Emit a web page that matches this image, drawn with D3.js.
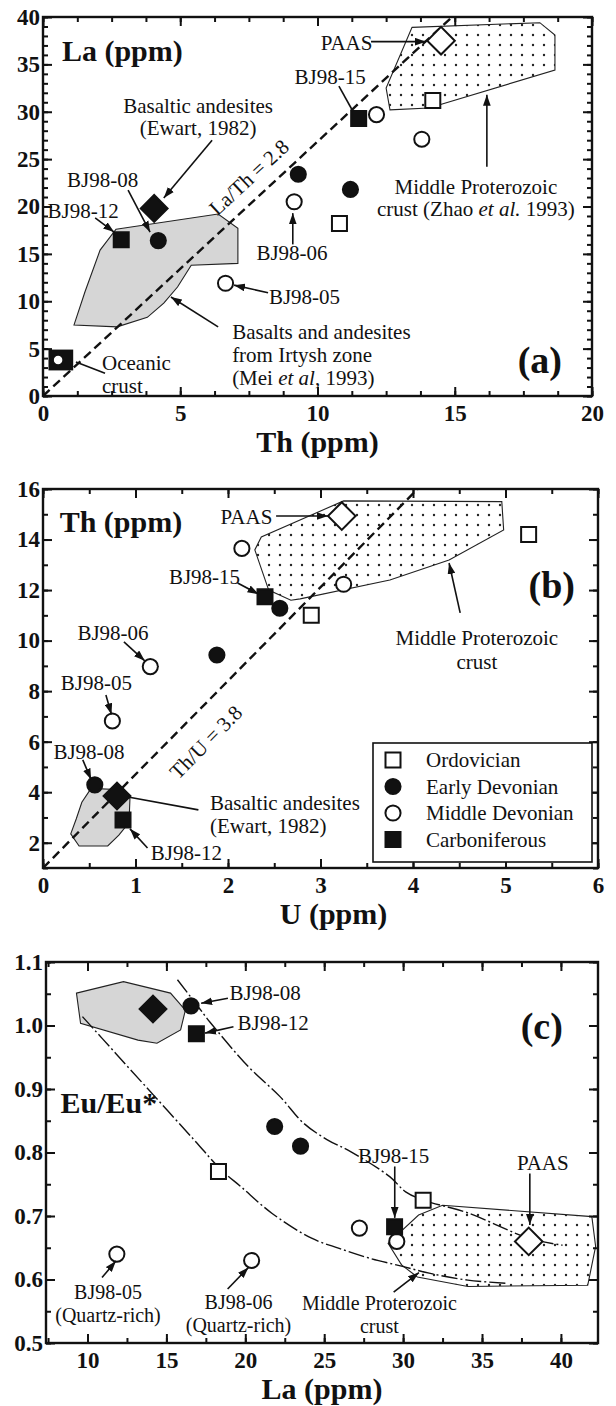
<!DOCTYPE html>
<html>
<head>
<meta charset="utf-8">
<script src="https://cdn.jsdelivr.net/npm/d3@7"></script>
<style>
  body { margin: 0; background: #fff; }
  svg text { font-family: "Liberation Serif", "Times New Roman", serif; fill: #111; }
</style>
</head>
<body>
<svg id="chart" width="616" height="1406"></svg>
<script>
// ---------- data ----------
const seriesNames = ["Ordovician", "Early Devonian", "Middle Devonian", "Carboniferous"];

// panel (a): Th (x) vs La (y)
const aOrdovician = [[14.2, 31.2], [10.8, 18.2]];
const aEarlyDevonian = [[9.3, 23.4], [11.2, 21.8], [4.2, 16.4]];
const aMiddleDevonian = [[12.15, 29.7], [13.8, 27.1], [9.15, 20.5], [6.65, 11.9]];
const aCarboniferous = [[11.5, 29.3], [2.85, 16.5]];
const aPAAS = [[14.5, 37.5]];
const aBasalticAndesite = [[4.05, 19.8]];
const aOceanicBox = [[0.2, 2.7], [1.1, 4.9]];
const aOceanicPoint = [[0.55, 3.8]];
const aRatioLine = [[0, 0], [14.9, 40]];
const aIrtyshField = [[2.66, 17.6], [6.38, 19.2], [7.1, 17.7], [7.1, 14.0], [5.4, 13.8], [4.9, 11.5],
  [4.4, 9.8], [3.8, 8.3], [2.7, 7.3], [1.13, 7.5], [1.53, 11.0], [2.08, 15.4]];
const aProterozoicField = [[13.44, 38.9], [18.1, 39.4], [18.65, 38.1], [18.65, 34.4], [14.06, 30.4],
  [12.64, 30.2], [12.5, 32.5]];
const aXTicks = [0, 5, 10, 15, 20];
const aYTicks = [0, 5, 10, 15, 20, 25, 30, 35, 40];

// panel (b): U (x) vs Th (y)
const bOrdovician = [[5.25, 14.2], [2.9, 11.0]];
const bEarlyDevonian = [[2.56, 11.28], [1.88, 9.43], [0.56, 4.29]];
const bMiddleDevonian = [[2.15, 13.65], [3.25, 12.23], [1.16, 8.97], [0.75, 6.82]];
const bCarboniferous = [[2.4, 11.74], [0.865, 2.9]];
const bPAAS = [[3.23, 14.93]];
const bBasalticAndesite = [[0.8, 3.85]];
const bRatioLine = [[0, 1], [4.05, 16]];
const bBasaltField = [[0.3, 2.35], [0.39, 1.87], [0.7, 1.87], [0.82, 2.3], [0.93, 2.8], [0.94, 3.75],
  [0.85, 4.1], [0.52, 4.15], [0.42, 3.6], [0.36, 2.95]];
const bProterozoicField = [[3.25, 15.53], [4.96, 15.5], [4.98, 14.38], [4.39, 13.19], [3.75, 12.4],
  [2.78, 11.65], [2.68, 11.6], [2.44, 12.0], [2.29, 13.59], [2.36, 14.1]];
const bXTicks = [0, 1, 2, 3, 4, 5, 6];
const bYTicks = [2, 4, 6, 8, 10, 12, 14, 16];

// panel (c): La (x) vs Eu/Eu* (y)
const cOrdovician = [[18.3, 0.770], [31.27, 0.725]];
const cEarlyDevonian = [[16.56, 1.031], [21.86, 0.841], [23.5, 0.81]];
const cMiddleDevonian = [[27.23, 0.681], [29.6, 0.660], [11.86, 0.640], [20.4, 0.630]];
const cCarboniferous = [[16.9, 0.987], [29.46, 0.683]];
const cPAAS = [[37.96, 0.660]];
const cBasalticAndesite = [[14.15, 1.026]];
const cBasaltField = [[9.3, 1.051], [12.28, 1.069], [15.26, 1.051], [16.2, 1.024], [15.9, 0.993],
  [14.4, 0.972], [13.2, 0.977], [9.56, 1.0035]];
const cProterozoicField = [[30.98, 0.7016], [32.5, 0.717], [41.96, 0.699], [42.2, 0.652], [41.7, 0.591],
  [34.1, 0.589], [30.9, 0.604], [29.9, 0.623], [29.05, 0.657]];
const cUpperTrend = [[15.7, 1.072], [17.0, 1.03], [17.74, 1.006], [20.2, 0.935], [22.2, 0.888], [23.7, 0.846],
  [25.2, 0.82], [26.7, 0.801], [29.15, 0.762], [30.16, 0.738], [31.28, 0.725], [34.1, 0.705],
  [37.96, 0.665], [40.1, 0.654]];
const cLowerTrend = [[9.68, 1.014], [11.79, 0.956], [14.27, 0.888], [16.75, 0.82], [18.5, 0.772],
  [19.73, 0.746], [21.7, 0.704], [24.2, 0.665], [25.95, 0.649], [27.95, 0.633], [29.9, 0.621],
  [31.65, 0.61], [34.1, 0.599], [36.6, 0.594]];
const cXTicks = [10, 15, 20, 25, 30, 35, 40];
const cYTicks = [0.5, 0.6, 0.7, 0.8, 0.9, 1.0, 1.1];

// ---------- set up ----------
const svg = d3.select("#chart");
const defs = svg.append("defs");

defs.append("marker")
  .attr("id", "arrow")
  .attr("viewBox", "0 0 10 7")
  .attr("refX", 10).attr("refY", 3.5)
  .attr("markerUnits", "userSpaceOnUse")
  .attr("markerWidth", 11).attr("markerHeight", 8)
  .attr("orient", "auto")
  .append("path").attr("d", "M0,0 L10,3.5 L0,7 z").attr("fill", "#111");

const dots = defs.append("pattern")
  .attr("id", "dots")
  .attr("patternUnits", "userSpaceOnUse")
  .attr("width", 11).attr("height", 10);
dots.append("rect").attr("width", 11).attr("height", 10).attr("fill", "#fff");
dots.append("circle").attr("cx", 5).attr("cy", 5).attr("r", 1.2).attr("fill", "#222");

const styles = {
  "Ordovician": { shape: d3.symbolSquare, size: 225, fill: "#fff" },
  "Early Devonian": { shape: d3.symbolCircle, size: 180, fill: "#111" },
  "Middle Devonian": { shape: d3.symbolCircle, size: 180, fill: "#fff" },
  "Carboniferous": { shape: d3.symbolSquare, size: 225, fill: "#111" },
  "PAAS": { shape: d3.symbolSquare, size: 380, fill: "#fff", rotate: 45 },
  "Basaltic": { shape: d3.symbolSquare, size: 360, fill: "#111", rotate: 45 }
};

function drawPoints(g, x, y, data, style) {
  const st = styles[style];
  g.selectAll(null).data(data).enter().append("path")
    .attr("d", d3.symbol().type(st.shape).size(st.size))
    .attr("transform", d => `translate(${x(d[0])},${y(d[1])}) rotate(${st.rotate || 0})`)
    .attr("fill", st.fill)
    .attr("stroke", "#111")
    .attr("stroke-width", 2);
}

function drawNote(g, x, y, n) {
  const t = g.append("text")
    .attr("x", x(n.at[0])).attr("y", y(n.at[1]))
    .attr("text-anchor", n.anchor || "middle")
    .attr("font-size", n.size || 21)
    .attr("font-weight", n.bold ? "bold" : "normal");
  if (n.rotate !== undefined) t.attr("transform", `rotate(${n.rotate},${x(n.at[0])},${y(n.at[1])})`);
  n.lines.forEach((line, i) => {
    const ts = t.append("tspan").attr("x", x(n.at[0])).attr("dy", i === 0 ? "0.35em" : (n.lh || 22));
    [].concat(line).forEach(seg => {
      if (typeof seg === "string") ts.append("tspan").text(seg);
      else ts.append("tspan").attr("font-style", "italic").text(seg.i);
    });
  });
}

function drawArrow(g, x, y, a) {
  g.append("line")
    .attr("x1", x(a.from[0])).attr("y1", y(a.from[1]))
    .attr("x2", x(a.to[0])).attr("y2", y(a.to[1]))
    .attr("stroke", "#111").attr("stroke-width", 1.6)
    .attr("marker-end", a.head === false ? null : "url(#arrow)");
}

function styleAxis(a) {
  a.select(".domain").remove();
  a.selectAll("line").attr("stroke", "#111").attr("stroke-width", 2);
  a.selectAll("text")
    .attr("font-family", "Liberation Serif, Times New Roman, serif")
    .attr("font-weight", "bold").attr("font-size", 23).attr("fill", "#111");
}

function drawPanel(p) {
  const x = d3.scaleLinear().domain(p.xDomain).range([p.left, p.right]);
  const y = d3.scaleLinear().domain(p.yDomain).range([p.bottom, p.top]);
  const g = svg.append("g");

  // fields
  const line = d3.line().x(d => x(d[0])).y(d => y(d[1]));
  (p.fields || []).forEach(f => {
    g.append("path").attr("d", line(f.pts) + "Z")
      .attr("fill", f.fill).attr("stroke", "#222").attr("stroke-width", 1.1);
  });
  (p.lines || []).forEach(l => {
    g.append("path").attr("d", d3.line().curve(l.curve || d3.curveLinear).x(d => x(d[0])).y(d => y(d[1]))(l.pts))
      .attr("fill", "none").attr("stroke", "#111")
      .attr("stroke-width", l.width).attr("stroke-dasharray", l.dash);
  });

  if (p.extra) p.extra(g, x, y);

  p.series.forEach(s => drawPoints(g, x, y, s.data, s.style));
  p.arrows.forEach(a => drawArrow(g, x, y, a));
  p.notes.forEach(n => drawNote(g, x, y, n));

  // ticks, inward on all four sides
  const xMinor = d3.range(p.xMinor[0], p.xDomain[1] + 1e-9, p.xMinor[1]);
  const yMinor = d3.range(p.yMinor[0], p.yDomain[1] + 1e-9, p.yMinor[1]);
  g.append("g").attr("transform", `translate(0,${p.bottom})`)
    .call(d3.axisBottom(x).tickValues(xMinor).tickSize(-5).tickFormat("")).call(styleAxis);
  g.append("g").attr("transform", `translate(0,${p.top})`)
    .call(d3.axisTop(x).tickValues(xMinor).tickSize(-5).tickFormat("")).call(styleAxis);
  g.append("g").attr("transform", `translate(${p.left},0)`)
    .call(d3.axisLeft(y).tickValues(yMinor).tickSize(-5).tickFormat("")).call(styleAxis);
  g.append("g").attr("transform", `translate(${p.right},0)`)
    .call(d3.axisRight(y).tickValues(yMinor).tickSize(-5).tickFormat("")).call(styleAxis);

  g.append("g").attr("transform", `translate(0,${p.bottom})`)
    .call(d3.axisBottom(x).tickValues(p.xTicks).tickSize(-9).tickPadding(9).tickFormat(p.xFmt)).call(styleAxis);
  g.append("g").attr("transform", `translate(0,${p.top})`)
    .call(d3.axisTop(x).tickValues(p.xTicks).tickSize(-9).tickFormat("")).call(styleAxis);
  g.append("g").attr("transform", `translate(${p.left},0)`)
    .call(d3.axisLeft(y).tickValues(p.yTicks).tickSize(-9).tickPadding(3).tickFormat(p.yFmt)).call(styleAxis);
  g.append("g").attr("transform", `translate(${p.right},0)`)
    .call(d3.axisRight(y).tickValues(p.yTicks).tickSize(-9).tickFormat("")).call(styleAxis);

  g.append("rect")
    .attr("x", p.left).attr("y", p.top)
    .attr("width", p.right - p.left).attr("height", p.bottom - p.top)
    .attr("fill", "none").attr("stroke", "#111").attr("stroke-width", 2.4);

  g.append("text")
    .attr("x", (p.left + p.right) / 2 + (p.titleDx || 0)).attr("y", p.bottom + 56)
    .attr("text-anchor", "middle").attr("font-size", 30).attr("font-weight", "bold")
    .text(p.xTitle);

  if (p.legend) p.legend(g);
  return { x, y };
}

const dashed = "9,5";
const ratioAngle = (x, y, pts) =>
  Math.atan2(y(pts[1][1]) - y(pts[0][1]), x(pts[1][0]) - x(pts[0][0])) * 180 / Math.PI;

// ---------- panel (a) ----------
drawPanel({
  left: 43, right: 592, top: 17, bottom: 396,
  xDomain: [0, 20], yDomain: [0, 40],
  xTicks: aXTicks, yTicks: aYTicks, xMinor: [0, 1.25], yMinor: [0, 1],
  xFmt: d3.format("d"), yFmt: d3.format("d"),
  xTitle: "Th (ppm)",
  fields: [
    { pts: aIrtyshField, fill: "#d6d6d6" },
    { pts: aProterozoicField, fill: "url(#dots)" }
  ],
  lines: [{ pts: aRatioLine, width: 2.4, dash: dashed }],
  extra: (g, x, y) => {
    g.append("rect")
      .attr("x", x(aOceanicBox[0][0])).attr("y", y(aOceanicBox[1][1]))
      .attr("width", x(aOceanicBox[1][0]) - x(aOceanicBox[0][0]))
      .attr("height", y(aOceanicBox[0][1]) - y(aOceanicBox[1][1]))
      .attr("fill", "#111");
    g.selectAll(null).data(aOceanicPoint).enter().append("circle")
      .attr("cx", d => x(d[0])).attr("cy", d => y(d[1])).attr("r", 5)
      .attr("fill", "#fff").attr("stroke", "#111").attr("stroke-width", 1.5);
    drawNote(g, x, y, { lines: ["La/Th = 2.8"], at: [7.5, 23.1], size: 21, rotate: ratioAngle(x, y, aRatioLine) });
  },
  series: [
    { data: aOrdovician, style: "Ordovician" },
    { data: aEarlyDevonian, style: "Early Devonian" },
    { data: aMiddleDevonian, style: "Middle Devonian" },
    { data: aCarboniferous, style: "Carboniferous" },
    { data: aPAAS, style: "PAAS" },
    { data: aBasalticAndesite, style: "Basaltic" }
  ],
  arrows: [
    { from: [11.95, 37.4], to: [13.95, 37.4] },
    { from: [10.78, 32.7], to: [11.3, 30.0], head: false },
    { from: [6.16, 27.0], to: [4.4, 20.9] },
    { from: [3.1, 21.74], to: [3.9, 17.3] },
    { from: [1.9, 18.8], to: [2.59, 17.3] },
    { from: [9.1, 16.0], to: [9.1, 19.3] },
    { from: [8.2, 10.9], to: [6.96, 11.7] },
    { from: [6.38, 7.3], to: [4.66, 10.45] },
    { from: [2.26, 2.4], to: [1.2, 3.6], head: false },
    { from: [16.17, 24.2], to: [16.17, 31.8] }
  ],
  notes: [
    { lines: ["La (ppm)"], at: [0.69, 36.5], anchor: "start", size: 30, bold: true },
    { lines: ["PAAS"], at: [11.06, 37.26] },
    { lines: ["BJ98-15"], at: [10.46, 33.67] },
    { lines: ["Basaltic andesites", "(Ewart, 1982)"], at: [5.65, 30.6] },
    { lines: ["BJ98-08"], at: [2.17, 22.8] },
    { lines: ["BJ98-12"], at: [1.46, 19.53] },
    { lines: ["BJ98-06"], at: [9.07, 15.09] },
    { lines: ["BJ98-05"], at: [8.23, 10.45], anchor: "start" },
    { lines: ["Basalts and andesites", "from Irtysh zone", ["(Mei ", { i: "et al" }, ", 1993)"]], at: [6.89, 6.75], anchor: "start", lh: 23 },
    { lines: ["Oceanic", "crust"], at: [2.15, 3.48], anchor: "start", lh: 23 },
    { lines: ["Middle Proterozoic", ["crust (Zhao ", { i: "et al." }, " 1993)"]], at: [15.77, 22.06] },
    { lines: ["(a)"], at: [18.1, 3.8], size: 38, bold: true }
  ]
});

// ---------- panel (b) ----------
drawPanel({
  left: 43, right: 598, top: 489, bottom: 868,
  xDomain: [0, 6], yDomain: [1, 16],
  xTicks: bXTicks, yTicks: bYTicks, xMinor: [0, 0.5], yMinor: [1, 1],
  xFmt: d3.format("d"), yFmt: d3.format("d"),
  xTitle: "U (ppm)", titleDx: 13,
  fields: [
    { pts: bBasaltField, fill: "#d6d6d6" },
    { pts: bProterozoicField, fill: "url(#dots)" }
  ],
  lines: [{ pts: bRatioLine, width: 2.4, dash: dashed }],
  extra: (g, x, y) => {
    drawNote(g, x, y, { lines: ["Th/U = 3.8"], at: [1.76, 5.99], size: 21, rotate: ratioAngle(x, y, bRatioLine) });
  },
  series: [
    { data: bOrdovician, style: "Ordovician" },
    { data: bEarlyDevonian, style: "Early Devonian" },
    { data: bMiddleDevonian, style: "Middle Devonian" },
    { data: bCarboniferous, style: "Carboniferous" },
    { data: bPAAS, style: "PAAS" },
    { data: bBasalticAndesite, style: "Basaltic" }
  ],
  arrows: [
    { from: [2.52, 14.93], to: [3.08, 14.93] },
    { from: [2.104, 12.28], to: [2.33, 11.84] },
    { from: [0.875, 9.95], to: [1.1, 9.2] },
    { from: [0.68, 7.85], to: [0.74, 7.08] },
    { from: [0.43, 5.28], to: [0.52, 4.5] },
    { from: [0.92, 3.81], to: [1.68, 3.3], head: false },
    { from: [1.13, 1.79], to: [0.94, 2.55] },
    { from: [4.51, 11.1], to: [4.39, 13.07] }
  ],
  notes: [
    { lines: ["Th (ppm)"], at: [0.18, 14.7], anchor: "start", size: 30, bold: true },
    { lines: ["PAAS"], at: [2.2, 14.89] },
    { lines: ["BJ98-15"], at: [1.746, 12.52] },
    { lines: ["BJ98-06"], at: [0.757, 10.3] },
    { lines: ["BJ98-05"], at: [0.578, 8.32] },
    { lines: ["BJ98-08"], at: [0.497, 5.6] },
    { lines: ["Basaltic andesites", "(Ewart, 1982)"], at: [1.805, 3.57], anchor: "start", lh: 23 },
    { lines: ["BJ98-12"], at: [1.55, 1.6] },
    { lines: ["Middle Proterozoic", "crust"], at: [4.69, 10.1], lh: 24 },
    { lines: ["(b)"], at: [5.5, 12.2], size: 38, bold: true }
  ],
  legend: g => {
    const box = { x: 373, y: 743, w: 219, h: 119 };
    const lg = g.append("g");
    lg.append("rect").attr("x", box.x).attr("y", box.y).attr("width", box.w).attr("height", box.h)
      .attr("fill", "#fff").attr("stroke", "#111").attr("stroke-width", 1.6);
    seriesNames.forEach((name, i) => {
      const cy = box.y + 17 + i * 26.5;
      const st = styles[name];
      lg.append("path")
        .attr("d", d3.symbol().type(st.shape).size(st.size)())
        .attr("transform", `translate(${box.x + 20},${cy})`)
        .attr("fill", st.fill).attr("stroke", "#111").attr("stroke-width", 2);
      lg.append("text").attr("x", box.x + 53).attr("y", cy).attr("dy", "0.35em")
        .attr("font-size", 21).text(name);
    });
  }
});

// ---------- panel (c) ----------
drawPanel({
  left: 46, right: 598, top: 962, bottom: 1343,
  xDomain: [7.37, 42.35], yDomain: [0.5, 1.1],
  xTicks: cXTicks, yTicks: cYTicks, xMinor: [7.5, 2.5], yMinor: [0.5, 0.05],
  xFmt: d3.format("d"), yFmt: d3.format(".1f"),
  xTitle: "La (ppm)",
  fields: [
    { pts: cBasaltField, fill: "#d6d6d6" },
    { pts: cProterozoicField, fill: "url(#dots)" }
  ],
  lines: [
    { pts: cUpperTrend, width: 1.4, dash: "16,3,2,3", curve: d3.curveCatmullRom },
    { pts: cLowerTrend, width: 1.4, dash: "16,3,2,3", curve: d3.curveCatmullRom }
  ],
  series: [
    { data: cOrdovician, style: "Ordovician" },
    { data: cEarlyDevonian, style: "Early Devonian" },
    { data: cMiddleDevonian, style: "Middle Devonian" },
    { data: cCarboniferous, style: "Carboniferous" },
    { data: cPAAS, style: "PAAS" },
    { data: cBasalticAndesite, style: "Basaltic" }
  ],
  arrows: [
    { from: [18.9, 1.043], to: [17.2, 1.035] },
    { from: [19.25, 0.998], to: [17.45, 0.988] },
    { from: [29.47, 0.778], to: [29.47, 0.697] },
    { from: [38.03, 0.767], to: [38.03, 0.686] },
    { from: [10.92, 0.603], to: [11.8, 0.629] },
    { from: [18.88, 0.585], to: [20.2, 0.619] },
    { from: [29.4, 0.58], to: [31.0, 0.611] }
  ],
  notes: [
    { lines: ["Eu/Eu*"], at: [8.29, 0.878], anchor: "start", size: 30, bold: true },
    { lines: ["BJ98-08"], at: [19.0, 1.051], anchor: "start" },
    { lines: ["BJ98-12"], at: [19.51, 1.004], anchor: "start" },
    { lines: ["BJ98-15"], at: [29.4, 0.7945] },
    { lines: ["PAAS"], at: [38.85, 0.7835] },
    { lines: ["BJ98-05", "(Quartz-rich)"], at: [11.3, 0.581], size: 20, lh: 23 },
    { lines: ["BJ98-06", "(Quartz-rich)"], at: [19.57, 0.565], size: 20, lh: 23 },
    { lines: ["Middle Proterozoic", "crust"], at: [28.5, 0.563], size: 20, lh: 23 },
    { lines: ["(c)"], at: [38.79, 1.0], size: 38, bold: true }
  ]
});
</script>
</body>
</html>
